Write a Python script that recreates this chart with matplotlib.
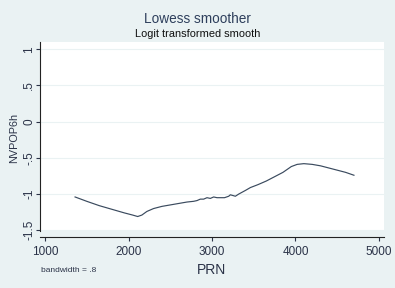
import matplotlib.pyplot as plt

# values
prn = [1360, 1500, 1650, 1800, 1950, 2050, 2110, 2160, 2220, 2300, 2400, 2500, 2600,
       2700, 2780, 2820, 2860, 2900, 2940, 2980, 3020, 3060, 3100, 3150, 3200,
       3220, 3250, 3280, 3320, 3400, 3460, 3550, 3650, 3750, 3850, 3950, 4020,
       4100, 4200, 4300, 4400, 4500, 4600, 4700]
nvpop = [-1.04, -1.10, -1.16, -1.21, -1.26, -1.29, -1.31, -1.29, -1.24, -1.20,
         -1.17, -1.15, -1.13, -1.11, -1.10, -1.09, -1.07, -1.07, -1.05, -1.06,
         -1.04, -1.05, -1.05, -1.05, -1.03, -1.01, -1.02, -1.03, -1.00, -0.95,
         -0.91, -0.87, -0.82, -0.76, -0.70, -0.62, -0.59, -0.58, -0.59, -0.61,
         -0.64, -0.67, -0.70, -0.74]
xticks = [1000, 2000, 3000, 4000, 5000]
yticks = [-1.5, -1, -0.5, 0, 0.5, 1]
ylabels = ['-1.5', '-1', '-.5', '0', '.5', '1']

plt.rcParams['font.family'] = ['Liberation Sans', 'DejaVu Sans']
bg = '#eaf2f3'
ink = '#2b3348'

fig = plt.figure(figsize=(3.95, 2.88), dpi=100, facecolor=bg)
ax = fig.add_axes([40 / 395, 1 - 231 / 288, 344 / 395, 189 / 288])
ax.set_facecolor('white')

ax.plot(prn, nvpop, color='#3a4a5e', lw=0.85)

ax.set_xlim(940, 5060)
ax.set_ylim(-1.51, 1.1)
ax.set_xticks(xticks)
ax.set_yticks(yticks)
ax.set_yticklabels(ylabels, rotation=90, va='center')
ax.tick_params(labelsize=8.5, colors=ink, length=3, width=0.8)
ax.tick_params(axis='y', pad=0.5)
ax.grid(axis='y', color=bg, lw=0.8)
ax.set_axisbelow(True)

for s in ['top', 'right']:
    ax.spines[s].set_visible(False)
ax.spines['bottom'].set_position(('outward', 4))
ax.spines['left'].set_color('#222222')
ax.spines['bottom'].set_color('#222222')

ax.set_xlabel('PRN', fontsize=10, color=ink, labelpad=4)
fig.text(14 / 395, 1 - 138 / 288, 'NVPOP6h', rotation=90, ha='center',
         va='center', fontsize=7.8, color=ink)

fig.text(0.5, 1 - 19 / 288, 'Lowess smoother', ha='center', va='center',
         fontsize=9.8, color='#2e3f5c')
fig.text(0.5, 1 - 34 / 288, 'Logit transformed smooth', ha='center', va='center',
         fontsize=7.9, color='#111111')
fig.text(41 / 395, 1 - 271 / 288, 'bandwidth = .8', ha='left', va='center',
         fontsize=6, color=ink)

fig.savefig('out.png', dpi=100, facecolor=bg)
